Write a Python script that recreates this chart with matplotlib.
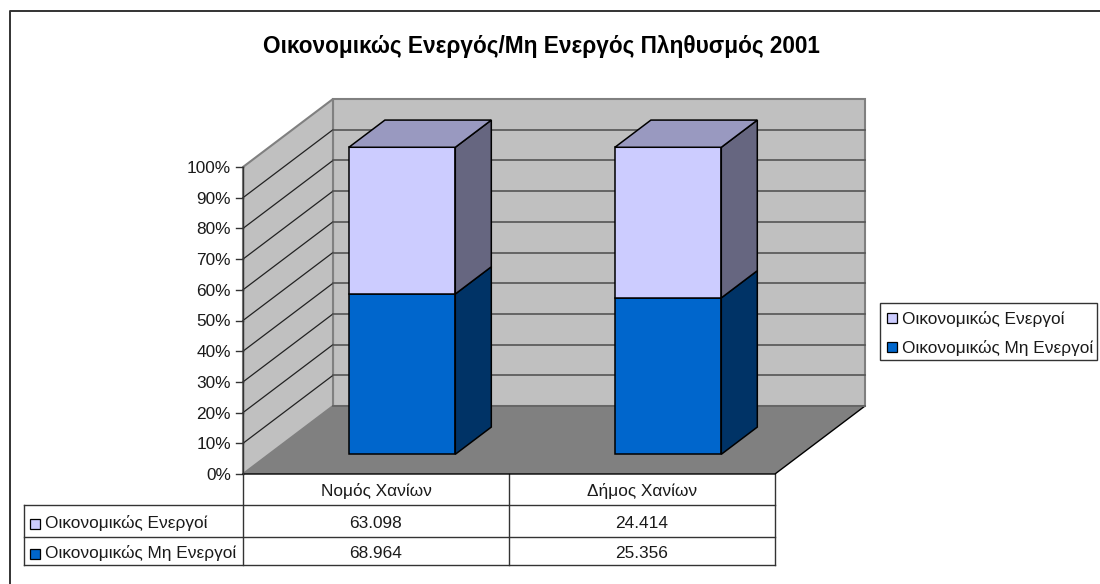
import matplotlib
matplotlib.use('Agg')
import matplotlib.pyplot as plt
from matplotlib.patches import Polygon, Rectangle

CATEGORIES = ['Νομός Χανίων', 'Δήμος Χανίων']
SERIES = ['Οικονομικώς Μη Ενεργοί', 'Οικονομικώς Ενεργοί']
INACTIVE = [68.964, 25.356]
ACTIVE = [63.098, 24.414]
TICK_LABELS = ['0%', '10%', '20%', '30%', '40%', '50%', '60%', '70%', '80%', '90%', '100%']
TITLE = 'Οικονομικώς Ενεργός/Μη Ενεργός Πληθυσμός 2001'

W, H = 1100, 584

# plot box in pixels
X0, X1 = 243, 775
Y0, Y100 = 474, 167
DEPTH_X, DEPTH_Y = 90, -68

FRONT = {'inactive': '#0066cc', 'active': '#ccccff'}
SIDE = {'inactive': '#003366', 'active': '#666680'}
TOP = '#9999c0'
WALL = '#c0c0c0'
FLOOR = '#808080'
EDGE = '#808080'
TEXT = '#1a1a1a'
FS = 12.4

plt.rcParams['font.family'] = ['Liberation Sans', 'DejaVu Sans']


def project(cat_pos, value, depth):
    # cat_pos 0..2, value 0..1, depth 0..1 -> pixels
    px = X0 + (X1 - X0) * cat_pos / 2 + DEPTH_X * depth
    py = Y0 - (Y0 - Y100) * value + DEPTH_Y * depth
    return px, py


def box(ax, c0, c1, v0, v1, d0, d1, front, side, top=None):
    ax.add_patch(Polygon([project(c0, v0, d0), project(c1, v0, d0), project(c1, v1, d0), project(c0, v1, d0)],
                         fc=front, ec='black', lw=1.1, zorder=5))
    ax.add_patch(Polygon([project(c1, v0, d0), project(c1, v0, d1), project(c1, v1, d1), project(c1, v1, d0)],
                         fc=side, ec='black', lw=1.1, zorder=5))
    if top:
        ax.add_patch(Polygon([project(c0, v1, d0), project(c1, v1, d0), project(c1, v1, d1), project(c0, v1, d1)],
                             fc=top, ec='black', lw=1.1, zorder=5))


fig = plt.figure(figsize=(W / 100, H / 100), dpi=100)
ax = fig.add_axes([0, 0, 1, 1])
ax.set_xlim(0, W)
ax.set_ylim(H, 0)
ax.axis('off')

# outer frame
ax.plot([10, 10, 1100], [584, 11, 11], color='#333333', lw=1.4)

ax.text(541, 47, TITLE, ha='center', va='center', fontsize=16.3, fontweight='bold', color='black')

# walls and floor
ax.add_patch(Polygon([project(0, 0, 1), project(2, 0, 1), project(2, 1, 1), project(0, 1, 1)],
                     fc=WALL, ec=EDGE, lw=1.5, zorder=1))
ax.add_patch(Polygon([project(0, 0, 0), project(0, 0, 1), project(0, 1, 1), project(0, 1, 0)],
                     fc=WALL, ec=EDGE, lw=1.5, zorder=1))

# gridlines and tick labels
for i, label in enumerate(TICK_LABELS):
    v = i / 10
    if 0 < i < 10:
        ax.plot(*zip(project(0, v, 0), project(0, v, 1)), color='#222222', lw=0.9, zorder=2)
        ax.plot(*zip(project(0, v, 1), project(2, v, 1)), color='#555555', lw=1.2, zorder=2)
    px, py = project(0, v, 0)
    ax.plot([px - 7, px], [py, py], color='#333333', lw=1, zorder=2)
    ax.text(px - 12, py + 1.5, label, ha='right', va='center', fontsize=FS, color=TEXT)

ax.add_patch(Polygon([project(0, 0, 0), project(2, 0, 0), project(2, 0, 1), project(0, 0, 1)],
                     fc=FLOOR, ec='none', zorder=2))
ax.plot(*zip(project(0, 0, 0), project(2, 0, 0), project(2, 0, 1)), color='black', lw=1, zorder=3)
ax.plot(*zip(project(0, 0, 1), project(2, 0, 1)), color='#666666', lw=1.4, zorder=3)
ax.plot(*zip(project(0, 0, 0), project(0, 1, 0)), color='#333333', lw=1, zorder=3)

# stacked bars
BAR_D0, BAR_D1 = 0.29, 0.69
BAR_PAD = 0.3
for i in range(len(CATEGORIES)):
    total = INACTIVE[i] + ACTIVE[i]
    share = INACTIVE[i] / total
    c0, c1 = i + BAR_PAD, i + 1 - BAR_PAD
    box(ax, c0, c1, 0, share, BAR_D0, BAR_D1, FRONT['inactive'], SIDE['inactive'])
    box(ax, c0, c1, share, 1, BAR_D0, BAR_D1, FRONT['active'], SIDE['active'], TOP)

# data table
COL_X = [X0, (X0 + X1) / 2, X1]
TAB_LEFT = 24
ROW_Y = [474, 505, 537, 565]
LINE = '#333333'
for x in COL_X:
    ax.plot([x, x], [ROW_Y[0], ROW_Y[3]], color=LINE, lw=1)
for y in ROW_Y[1:]:
    ax.plot([TAB_LEFT, X1], [y, y], color=LINE, lw=1)
ax.plot([TAB_LEFT, TAB_LEFT], [ROW_Y[1], ROW_Y[3]], color=LINE, lw=1)

for i, cat in enumerate(CATEGORIES):
    xc = (COL_X[i] + COL_X[i + 1]) / 2
    ax.text(xc, 491, cat, ha='center', va='center', fontsize=FS, color=TEXT)
    ax.text(xc, 523, f'{ACTIVE[i]:.3f}', ha='center', va='center', fontsize=FS, color=TEXT)
    ax.text(xc, 553, f'{INACTIVE[i]:.3f}', ha='center', va='center', fontsize=FS, color=TEXT)

for name, key, yc in [(SERIES[1], 'active', 523), (SERIES[0], 'inactive', 553)]:
    ax.add_patch(Rectangle((30, yc - 4), 10, 10, fc=FRONT[key], ec='black', lw=0.9))
    ax.text(45, yc, name, ha='left', va='center', fontsize=FS, color=TEXT)

# legend
ax.add_patch(Rectangle((880, 303), 217, 57, fc='white', ec=LINE, lw=1))
for name, key, yc in [(SERIES[1], 'active', 318), (SERIES[0], 'inactive', 347)]:
    ax.add_patch(Rectangle((887, yc - 5), 10, 10, fc=FRONT[key], ec='black', lw=0.9))
    ax.text(902, yc + 1, name, ha='left', va='center', fontsize=FS, color=TEXT)

fig.savefig('out.png', dpi=100)
